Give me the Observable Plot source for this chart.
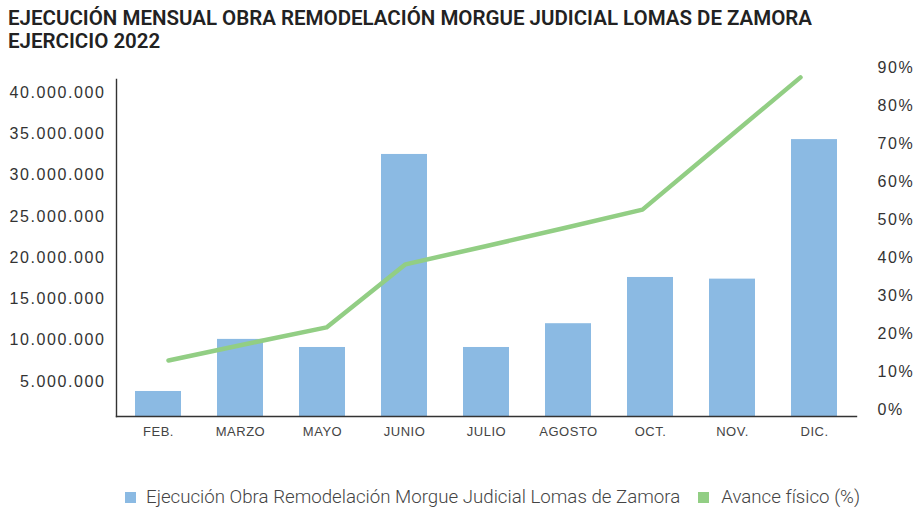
<!DOCTYPE html>
<html>
<head>
<meta charset="utf-8">
<script src="https://cdn.jsdelivr.net/npm/d3@7"></script>
<script src="https://cdn.jsdelivr.net/npm/@observablehq/plot@0.6"></script>
<style>
  html, body { margin: 0; padding: 0; background: #fff; }
  #page { width: 914px; height: 510px; position: relative; overflow: hidden; }
  #title { font-family: Roboto, "Noto Sans", sans-serif; font-weight: 600; font-size: 20.5px; line-height: 23px; color: #222; padding: 7px 0 0 8px; height: 51px; box-sizing: content-box; }
  #chart { position: relative; width: 914px; height: 400px; }
  #chart svg { position: absolute; left: 0; top: 0; }
  #chart svg g[aria-label="y-axis tick label"] text { letter-spacing: 1.6px; }
  #chart svg g[aria-label="x-axis tick label"] text { letter-spacing: 0.5px; }
  #legend { position: absolute; left: 125px; top: 486px; display: flex; align-items: center; font-family: Roboto, "Noto Sans", sans-serif; font-weight: 300; font-size: 18.7px; color: #444; white-space: nowrap; }
  .sw { width: 11px; height: 11px; display: inline-block; }
</style>
</head>
<body>
<div id="page">
  <div id="title">EJECUCIÓN MENSUAL OBRA REMODELACIÓN MORGUE JUDICIAL LOMAS DE ZAMORA<br>EJERCICIO 2022</div>
  <div id="chart"></div>
  <div id="legend"></div>
</div>
<script>
// Data
const months = ["FEB.", "MARZO", "MAYO", "JUNIO", "JULIO", "AGOSTO", "OCT.", "NOV.", "DIC."];
const ejecucion = [3790000, 10100000, 9120000, 32500000, 9120000, 12000000, 17600000, 17400000, 34300000];
const avance = [12.9, 17.3, 21.6, 38.2, 42.9, 47.7, 52.6, 70.0, 87.4];
const leftTicks = [5000000, 10000000, 15000000, 20000000, 25000000, 30000000, 35000000, 40000000];
const rightTicks = [0, 10, 20, 30, 40, 50, 60, 70, 80, 90];
const seriesNames = ["Ejecución Obra Remodelación Morgue Judicial Lomas de Zamora", "Avance físico (%)"];
const colors = ["#8bbae3", "#92ce84"];

const data = months.map((m, i) => ({mes: m, ejec: ejecucion[i], avance: avance[i]}));
const fmt = d3.formatLocale({decimal: ",", thousands: ".", grouping: [3], currency: ["", ""]}).format(",");

const bars = Plot.plot({
  width: 914, height: 400,
  marginLeft: 116, marginRight: 58, marginTop: 21, marginBottom: 42,
  style: {background: "transparent", fontFamily: "'Liberation Sans', Arial, sans-serif", overflow: "visible"},
  x: {domain: months, paddingInner: 0.44, paddingOuter: 0.22, label: null},
  y: {domain: [760000, 41580000], clamp: true, label: null},
  marks: [
    Plot.barY(data, {x: "mes", y: "ejec", fill: colors[0]}),
    Plot.axisY(leftTicks, {tickSize: 0, tickPadding: 11, tickFormat: fmt, fontSize: 16, fill: "#333", label: null}),
    Plot.axisX({tickSize: 0, tickPadding: 10, fontSize: 13, fill: "#444", label: null}),
    Plot.frame({anchor: "left", stroke: "#333", strokeWidth: 1.4}),
    Plot.frame({anchor: "bottom", stroke: "#333", strokeWidth: 1.4})
  ]
});

const line = Plot.plot({
  width: 914, height: 400,
  marginLeft: 0, marginRight: 58, marginTop: 0, marginBottom: 0,
  style: {background: "transparent", fontFamily: "'Liberation Sans', Arial, sans-serif", overflow: "visible"},
  x: {type: "point", domain: months, range: [128, 840], axis: null},
  y: {domain: [0, 90], range: [351, 9], label: null},
  marks: [
    Plot.lineY(data, {x: "mes", y: "avance", stroke: colors[1], strokeWidth: 4.5}),
    Plot.axisY(rightTicks, {anchor: "right", tickSize: 0, tickPadding: 21, tickFormat: d => d + "%", fontSize: 16, fill: "#333", label: null})
  ]
});

const chart = document.getElementById("chart");
chart.appendChild(bars);
chart.appendChild(line);

const legend = document.getElementById("legend");
seriesNames.forEach((name, i) => {
  const sw = document.createElement("span");
  sw.className = "sw";
  sw.style.background = colors[i];
  sw.style.marginRight = i === 0 ? "10px" : "12px";
  const t = document.createElement("span");
  t.textContent = name;
  if (i === 0) t.style.marginRight = "18px";
  legend.appendChild(sw);
  legend.appendChild(t);
});
</script>
</body>
</html>
